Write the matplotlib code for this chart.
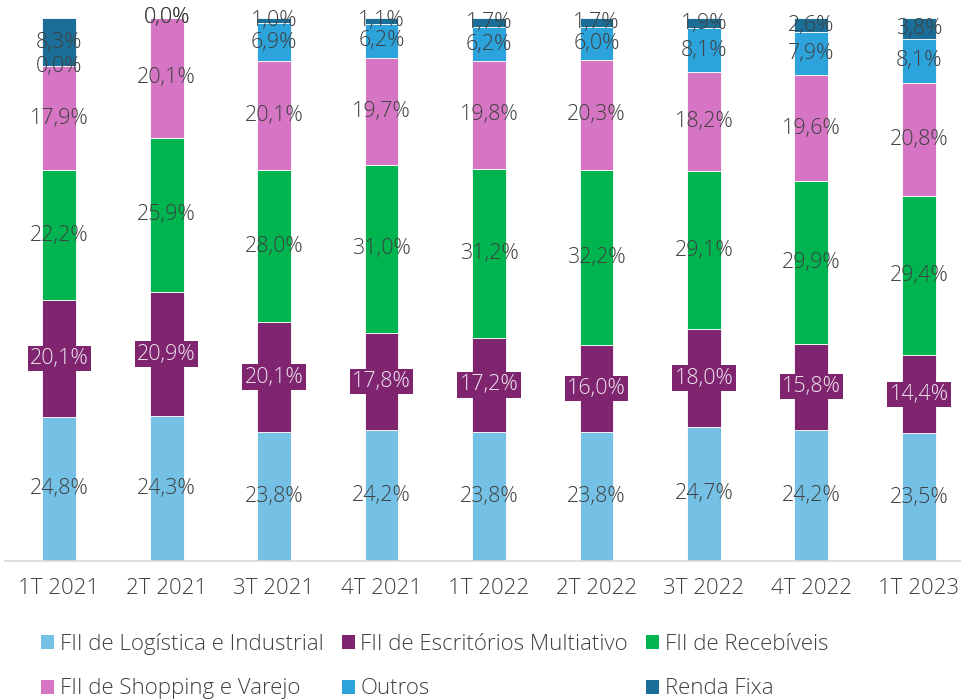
import matplotlib
matplotlib.use("Agg")
import matplotlib.pyplot as plt
from matplotlib.patches import Patch
import numpy as np

plt.rcParams['font.family'] = ['Open Sans', 'DejaVu Sans']

categories = ["1T 2021", "2T 2021", "3T 2021", "4T 2021", "1T 2022",
              "2T 2022", "3T 2022", "4T 2022", "1T 2023"]

logistica = [24.8, 24.3, 23.8, 24.2, 23.8, 23.8, 24.7, 24.2, 23.5]
escritorios = [20.1, 20.9, 20.1, 17.8, 17.2, 16.0, 18.0, 15.8, 14.4]
recebiveis = [22.2, 25.9, 28.0, 31.0, 31.2, 32.2, 29.1, 29.9, 29.4]
shopping = [17.9, 20.1, 20.1, 19.7, 19.8, 20.3, 18.2, 19.6, 20.8]
outros = [0.0, 0.0, 6.9, 6.2, 6.2, 6.0, 8.1, 7.9, 8.1]
renda_fixa = [8.3, 0.0, 1.0, 1.1, 1.7, 1.7, 1.9, 2.6, 3.8]

series_names = ["FII de Logística e Industrial", "FII de Escritórios Multiativo",
                "FII de Recebíveis", "FII de Shopping e Varejo", "Outros", "Renda Fixa"]
series_values = [logistica, escritorios, recebiveis, shopping, outros, renda_fixa]
colors = ["#75C1E6", "#7F256F", "#00B550", "#D575C3", "#2CA3DB", "#1B6E98"]

TEXT = "#404040"
FS = 16
FS_LABEL = 15.5

fig = plt.figure(figsize=(9.61, 7.0), dpi=100)
ax = fig.add_axes([5.3 / 961, 1 - 561 / 700, 967.4 / 961, (561 - 18) / 700])

x = np.arange(len(categories))
vals = np.array(series_values, dtype=float)
totals = vals.sum(axis=0)
shares = vals / totals * 100.0  # 100% stacked

bottom = np.zeros(len(categories))
for i, (name, share, raw, col) in enumerate(zip(series_names, shares, vals, colors)):
    ax.bar(x, share, width=0.316, bottom=bottom, color=col, label=name,
           edgecolor="white", linewidth=0.6)
    for xi, b, h, v in zip(x, bottom, share, raw):
        txt = f"{v:.1f}".replace(".", ",") + "%"
        if i == 1:
            ax.text(xi, b + h / 2, txt, ha="center", va="center", fontsize=FS_LABEL,
                    color="#EDE3EC", fontweight="light",
                    bbox=dict(boxstyle="square,pad=0.1", fc=col, ec="none"))
        else:
            ax.text(xi, b + h / 2, txt, ha="center", va="center", fontsize=FS_LABEL,
                    color=TEXT, fontweight="light")
    bottom += share

ax.set_xlim(-0.5, len(categories) - 0.5)
ax.set_ylim(0, 100)
ax.set_yticks([])
ax.set_xticks(x)
ax.set_xticklabels(categories, fontsize=FS, color=TEXT, fontweight="light")
ax.tick_params(axis="x", length=0, pad=12)
for s in ["top", "right", "left"]:
    ax.spines[s].set_visible(False)
ax.spines["bottom"].set_color("#D9D9D9")
ax.spines["bottom"].set_linewidth(1.2)

handles = [Patch(facecolor=c, edgecolor="none") for c in colors]
order = [0, 3, 1, 4, 2, 5]
fig.legend([handles[k] for k in order], [series_names[k] for k in order],
           ncol=3, loc="upper left", bbox_to_anchor=(30 / 961, 1 - 622 / 700),
           frameon=False, handlelength=0.6, handleheight=0.6,
           handletextpad=0.25, columnspacing=0.8, labelspacing=1.05, borderpad=0,
           prop=dict(size=FS, weight="light"), labelcolor=TEXT)

fig.savefig("out.png", dpi=100)
